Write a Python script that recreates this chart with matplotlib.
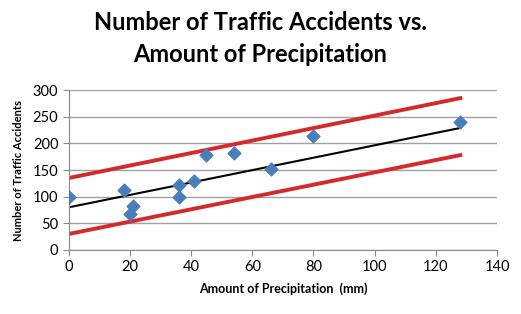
import matplotlib.pyplot as plt

# Data
precip = [0, 18, 20, 21, 36, 36, 41, 45, 54, 66, 80, 128]
accidents = [100, 112, 68, 82, 100, 122, 130, 178, 182, 151, 214, 240]

# Trend line and prediction bands (endpoints)
line_x = [0, 128]
trend = [80, 229]
upper = [135, 285]
lower = [30, 178]

plt.rcParams['font.family'] = ['Lato', 'DejaVu Sans']

fig = plt.figure(figsize=(5.21, 3.14), dpi=100)
ax = fig.add_axes([0.132, 0.204, 0.822, 0.509])

ax.plot(line_x, upper, color='#d42a2a', linewidth=2.8, zorder=2)
ax.plot(line_x, lower, color='#d42a2a', linewidth=2.8, zorder=2)
ax.plot(line_x, trend, color='black', linewidth=1.5, zorder=2)
ax.scatter(precip, accidents, marker='D', s=42, color='#4a7ebb', zorder=3)

ax.set_xlim(0, 140)
ax.set_ylim(0, 300)
ax.set_xticks(range(0, 141, 20))
ax.set_yticks(range(0, 301, 50))
ax.grid(axis='y', color='#a0a0a0', linewidth=1)
ax.set_axisbelow(True)

for s in ['top', 'right']:
    ax.spines[s].set_visible(False)
for s in ['left', 'bottom']:
    ax.spines[s].set_color('#888888')
ax.tick_params(colors='#888888', labelcolor='black', labelsize=10.5, length=4)

ax.set_xlabel('Amount of Precipitation  (mm)', fontsize=9, fontweight='bold', labelpad=6)
ax.set_ylabel('Number of Traffic Accidents', fontsize=8, fontweight='bold', labelpad=6)

fig.text(0.5, 1 - 23 / 314, 'Number of Traffic Accidents vs.',
         ha='center', va='center', fontsize=17, fontweight='bold')
fig.text(0.5, 1 - 55 / 314, 'Amount of Precipitation',
         ha='center', va='center', fontsize=17, fontweight='bold')

fig.savefig('out.png', dpi=100)
